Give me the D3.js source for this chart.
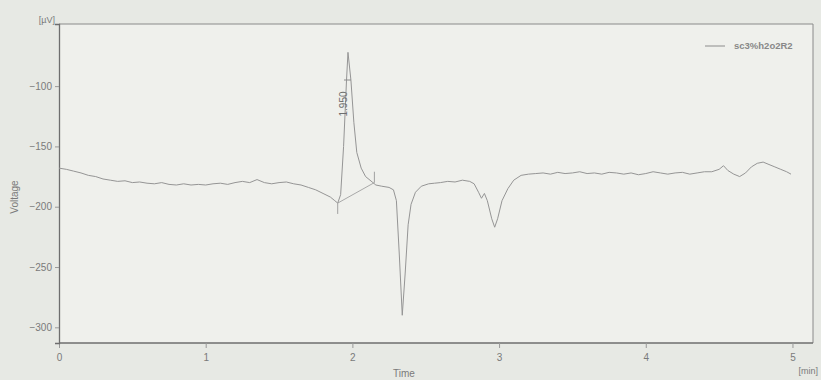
<!DOCTYPE html>
<html>
<head>
<meta charset="utf-8">
<script src="https://cdn.jsdelivr.net/npm/d3@7"></script>
<style>
  body { margin: 0; background: #e7e9e4; }
  svg { display: block; font-family: "Liberation Sans", Arial, sans-serif; }
</style>
</head>
<body>
<div id="chart"></div>
<script>
// retention time (min) and detector signal (µV)
var times = [
  0, 0.05, 0.1, 0.15, 0.2, 0.25, 0.3, 0.35, 0.4, 0.45,
  0.5, 0.55, 0.6, 0.65, 0.7, 0.75, 0.8, 0.85, 0.9, 0.95,
  1.0, 1.05, 1.1, 1.15, 1.2, 1.25, 1.3, 1.35, 1.4, 1.45,
  1.5, 1.55, 1.6, 1.65, 1.7, 1.75, 1.8, 1.85, 1.88, 1.9,
  1.92, 1.94, 1.96, 1.97, 1.99, 2.01, 2.03, 2.06, 2.09, 2.12,
  2.14, 2.16, 2.2, 2.25, 2.28, 2.3, 2.32, 2.34, 2.36, 2.38,
  2.4, 2.43, 2.47, 2.52, 2.56, 2.6, 2.65, 2.7, 2.75, 2.8,
  2.83, 2.86, 2.88, 2.9, 2.92, 2.95, 2.97, 2.99, 3.02, 3.06,
  3.1, 3.15, 3.2, 3.25, 3.3, 3.35, 3.4, 3.45, 3.5, 3.55,
  3.6, 3.65, 3.7, 3.75, 3.8, 3.85, 3.9, 3.95, 4.0, 4.05,
  4.1, 4.15, 4.2, 4.25, 4.3, 4.35, 4.4, 4.45, 4.5, 4.53,
  4.56, 4.6, 4.64, 4.68, 4.72, 4.76, 4.8, 4.84, 4.88, 4.92,
  4.96, 4.99
];
var voltage = [
  -168, -169, -170.5, -172, -174, -175, -177, -178, -179, -178.5,
  -180, -179.5, -180.5, -181, -180, -181.5, -182, -181, -182, -181.5,
  -182, -181, -180.5, -181.5, -180, -179, -180, -177.5, -180, -181,
  -180, -179.5, -181, -182, -184, -186, -189, -192, -195, -197,
  -190, -150, -95, -72, -95, -130, -155, -168, -175, -178,
  -180, -182, -183, -184, -186, -195, -240, -290, -255, -215,
  -198, -188, -183, -181, -180.5, -180, -179, -179.5, -178, -179,
  -181, -188, -193, -189, -195, -210, -217, -210, -195, -185,
  -178, -174, -173, -172.5, -172, -173, -171.5, -172.5, -172, -171,
  -172.5, -172, -173, -171.5, -172, -173, -172, -173.5, -172.5, -171,
  -172, -173, -172, -171.5, -173, -172, -171, -171, -169, -166,
  -170, -173, -175, -172, -167, -164, -163, -165, -167, -169,
  -171, -173
];
var xTicks = [0, 1, 2, 3, 4, 5];
var yTicks = [-100, -150, -200, -250, -300];
var seriesName = 'sc3%h2o2R2';
var peakTime = 1.95;
var peakApex = 1.97;
var peakBaseline = [[1.9, -197], [2.15, -180]];

var W = 821, H = 380;
var m = { left: 59, top: 24, right: 813, bottom: 343 };

var svg = d3.select('#chart').append('svg')
  .attr('width', W).attr('height', H);

svg.append('rect')
  .attr('x', m.left).attr('y', m.top)
  .attr('width', m.right - m.left).attr('height', m.bottom - m.top)
  .attr('fill', '#eff0ec');

var x = d3.scaleLinear().domain([0, 5.14]).range([m.left, m.right]);
var y = d3.scaleLinear().domain([-313, -48.5]).range([m.bottom, m.top]);

var axisColor = '#6e6e6e', textColor = '#7a7a7a';

// frame top + right
svg.append('path')
  .attr('d', 'M' + m.left + ',' + m.top + 'H' + m.right + 'V' + m.bottom)
  .attr('fill', 'none').attr('stroke', '#8a8a8a').attr('stroke-width', 1);

var xAxis = svg.append('g')
  .attr('transform', 'translate(0,' + m.bottom + ')')
  .call(d3.axisBottom(x).tickValues(xTicks).tickFormat(d3.format('d')).tickSize(5).tickPadding(6));
var yAxis = svg.append('g')
  .attr('transform', 'translate(' + m.left + ',0)')
  .call(d3.axisLeft(y).tickValues(yTicks).tickFormat(d3.format('d')).tickSize(4).tickPadding(3));

[xAxis, yAxis].forEach(function (g) {
  g.select('.domain').attr('stroke', axisColor).attr('stroke-width', 1.3);
  g.selectAll('.tick line').attr('stroke', '#999');
  g.selectAll('.tick text').attr('fill', textColor).style('font-size', '10px');
});
xAxis.select('.domain').attr('d', 'M' + m.left + ',0H' + m.right);

// unit labels
svg.append('text').attr('x', 55).attr('y', 23).attr('text-anchor', 'end')
  .attr('fill', textColor).style('font-size', '9px').text('[µV]');
svg.append('text').attr('x', 818).attr('y', 374).attr('text-anchor', 'end')
  .attr('fill', textColor).style('font-size', '9px').text('[min]');

// axis titles
svg.append('text').attr('x', 404).attr('y', 377).attr('text-anchor', 'middle')
  .attr('fill', textColor).style('font-size', '10px').text('Time');
svg.append('text')
  .attr('transform', 'translate(18,197) rotate(-90)')
  .attr('text-anchor', 'middle')
  .attr('fill', textColor).style('font-size', '10px').text('Voltage');

// trace
var data = times.map(function (t, i) { return [t, voltage[i]]; });
var line = d3.line().x(function (d) { return x(d[0]); }).y(function (d) { return y(d[1]); });

svg.append('path').datum(peakBaseline)
  .attr('d', line).attr('fill', 'none')
  .attr('stroke', '#a0a0a0').attr('stroke-width', 0.9);

svg.append('path').datum(data)
  .attr('d', line).attr('fill', 'none')
  .attr('stroke', '#959595').attr('stroke-width', 1);

// peak start/end markers
svg.append('line')
  .attr('x1', x(peakBaseline[0][0])).attr('x2', x(peakBaseline[0][0]))
  .attr('y1', y(peakBaseline[0][1])).attr('y2', y(peakBaseline[0][1] - 9))
  .attr('stroke', '#a0a0a0');
svg.append('line')
  .attr('x1', x(peakBaseline[1][0])).attr('x2', x(peakBaseline[1][0]))
  .attr('y1', y(peakBaseline[1][1])).attr('y2', y(peakBaseline[1][1] + 9))
  .attr('stroke', '#a0a0a0');

// retention time label
svg.append('line')
  .attr('x1', x(peakApex) - 4).attr('x2', x(peakApex) + 3)
  .attr('y1', 80).attr('y2', 80)
  .attr('stroke', '#8c8c8c');
svg.append('text')
  .attr('transform', 'translate(' + (x(peakApex) - 1) + ',104) rotate(-90)')
  .attr('text-anchor', 'middle')
  .attr('fill', '#6e6e6e').style('font-size', '10px')
  .text(d3.format('.3f')(peakTime));

// legend
svg.append('line')
  .attr('x1', 705).attr('x2', 725).attr('y1', 46).attr('y2', 46)
  .attr('stroke', '#8c8c8c');
svg.append('text').attr('x', 734).attr('y', 49)
  .attr('fill', '#888').style('font-size', '9.5px').style('font-weight', 'bold')
  .text(seriesName);
</script>
</body>
</html>
